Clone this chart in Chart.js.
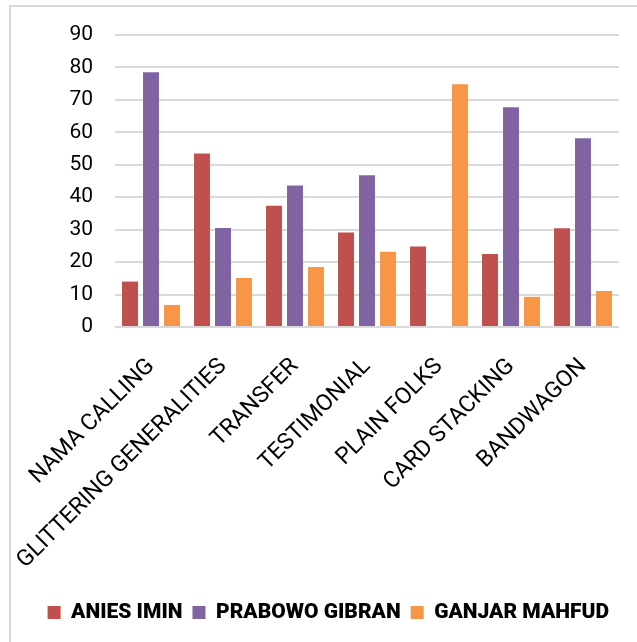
<!DOCTYPE html>
<html>
<head>
<meta charset="utf-8">
<script src="https://cdn.jsdelivr.net/npm/chart.js@4.4.0/dist/chart.umd.min.js"></script>
<style>
  html, body { margin: 0; padding: 0; background: #ffffff; }
  #wrap { position: relative; width: 637px; height: 642px; }
</style>
</head>
<body>
<div id="wrap"><canvas id="chart" width="637" height="642"></canvas></div>
<script>
// Propaganda techniques per candidate pair
const categories = ['NAMA CALLING', 'GLITTERING GENERALITIES', 'TRANSFER', 'TESTIMONIAL', 'PLAIN FOLKS', 'CARD STACKING', 'BANDWAGON'];
const seriesNames = ['ANIES IMIN', 'PRABOWO GIBRAN', 'GANJAR MAHFUD'];
const aniesImin = [14, 53.5, 37.4, 29.1, 24.8, 22.5, 30.4];
const prabowoGibran = [78.5, 30.5, 43.6, 46.8, 0, 67.7, 58.2];
const ganjarMahfud = [6.8, 15.1, 18.5, 23.2, 74.8, 9.3, 11.1];
const yTicks = [0, 10, 20, 30, 40, 50, 60, 70, 80, 90];

const colors = ['#C0504D', '#8064A2', '#F79646'];
const FONT = 'Roboto, "Liberation Sans", sans-serif';

// light frame around the chart area
const framePlugin = {
  id: 'frame',
  beforeDraw(chart) {
    const ctx = chart.ctx;
    ctx.save();
    ctx.fillStyle = '#ffffff';
    ctx.fillRect(0, 0, chart.width, chart.height);
    ctx.strokeStyle = '#d9d9d9';
    ctx.lineWidth = 2;
    ctx.strokeRect(10, 6, chart.width + 20, chart.height + 20);
    ctx.restore();
  }
};

const dataSets = [aniesImin, prabowoGibran, ganjarMahfud].map((vals, i) => ({
  label: seriesNames[i],
  data: vals,
  backgroundColor: colors[i],
  borderWidth: 0,
  barPercentage: 0.76,
  categoryPercentage: 0.875
}));

new Chart(document.getElementById('chart'), {
  type: 'bar',
  data: { labels: categories, datasets: dataSets },
  options: {
    responsive: false,
    animation: false,
    devicePixelRatio: 1,
    layout: { padding: { left: 20, right: 18, top: 35, bottom: 9 } },
    plugins: {
      tooltip: { enabled: false },
      legend: {
        position: 'bottom',
        align: 'end',
        labels: {
          boxWidth: 13,
          boxHeight: 13,
          padding: 10,
          color: '#000000',
          font: { family: FONT, size: 21, weight: 900 }
        }
      }
    },
    scales: {
      x: {
        grid: { display: false },
        border: { display: false },
        ticks: {
          autoSkip: false,
          minRotation: 45,
          maxRotation: 45,
          padding: 18,
          color: '#000000',
          font: { family: FONT, size: 23 }
        },
        afterFit(axis) { axis.height = 265; }
      },
      y: {
        min: 0,
        max: 90,
        afterBuildTicks(axis) { axis.ticks = yTicks.map(v => ({ value: v })); },
        grid: { color: '#d9d9d9', lineWidth: 2, drawTicks: false },
        border: { display: false },
        ticks: {
          padding: 22,
          color: '#000000',
          font: { family: FONT, size: 21 }
        },
        afterFit(axis) { axis.width = 95; }
      }
    }
  },
  plugins: [framePlugin]
});
</script>
</body>
</html>
